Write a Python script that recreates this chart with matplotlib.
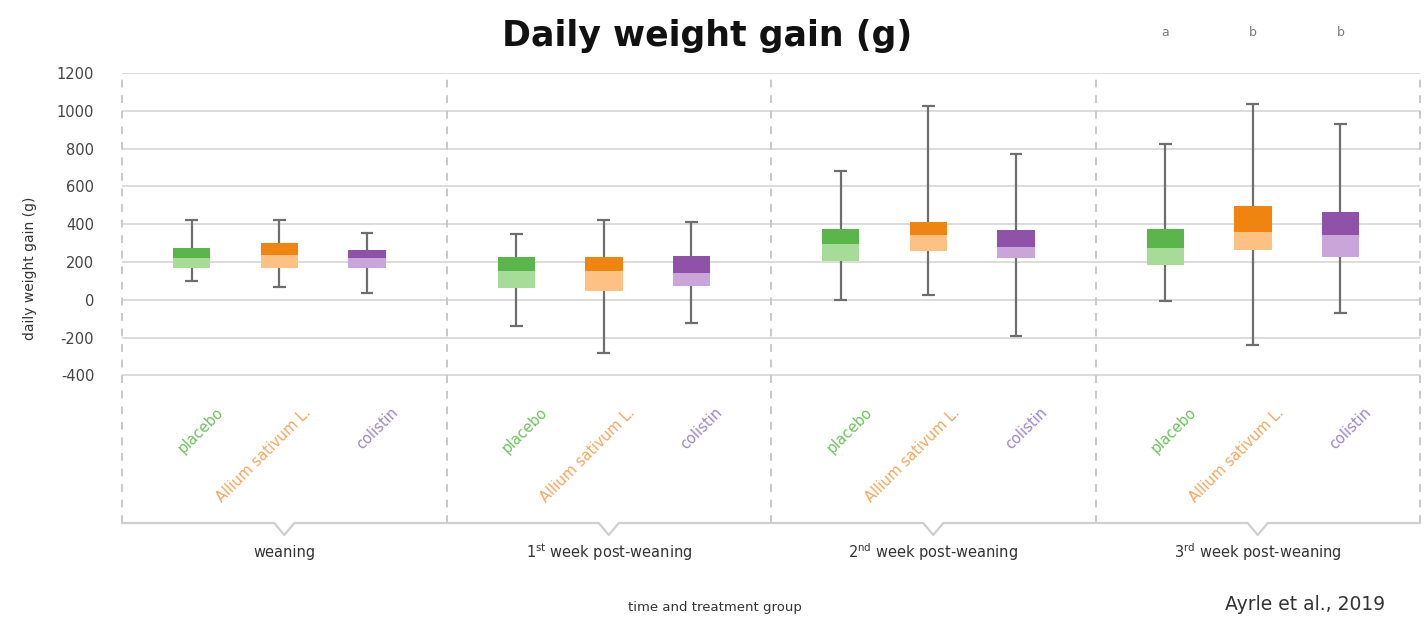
import matplotlib
matplotlib.use("Agg")
import matplotlib.pyplot as plt
import matplotlib.transforms as mtransforms
import numpy as np

plt.rcParams['font.family'] = ['DejaVu Sans']
plt.rcParams['axes.unicode_minus'] = False

# ---------------- data ----------------
groups = ["weaning",
          r"1$^{\mathrm{st}}$ week post-weaning",
          r"2$^{\mathrm{nd}}$ week post-weaning",
          r"3$^{\mathrm{rd}}$ week post-weaning"]
treatments = ["placebo", "Allium sativum L.", "colistin"]

placebo_low = [97, -141, 0, -5]
placebo_q1 = [170, 63, 203, 185]
placebo_med = [222, 150, 296, 275]
placebo_q3 = [275, 229, 375, 375]
placebo_high = [420, 349, 679, 825]

allium_low = [69, -281, 26, -238]
allium_q1 = [170, 44, 256, 261]
allium_med = [238, 150, 344, 361]
allium_q3 = [303, 228, 409, 497]
allium_high = [420, 420, 1023, 1037]

colistin_low = [37, -122, -194, -70]
colistin_q1 = [170, 74, 222, 226]
colistin_med = [222, 144, 282, 344]
colistin_q3 = [265, 233, 370, 462]
colistin_high = [354, 413, 772, 929]

last_letters = ["a", "b", "b"]
yticks = [-400, -200, 0, 200, 400, 600, 800, 1000, 1200]

# ---------------- styles ----------------
dark = ["#5ab64a", "#ef8510", "#8f52a8"]
light = ["#a7dc98", "#fcc183", "#c9a5d9"]
label_col = ["#6cc35c", "#f6a65c", "#9b86c8"]
offsets = [-0.285, -0.015, 0.255]
box_w = 0.115
cap_w = 0.02

stats = [
    (placebo_low, placebo_q1, placebo_med, placebo_q3, placebo_high),
    (allium_low, allium_q1, allium_med, allium_q3, allium_high),
    (colistin_low, colistin_q1, colistin_med, colistin_q3, colistin_high),
]

fig = plt.figure(figsize=(14.24, 6.2), dpi=100)
ax = fig.add_axes([122/1424, 1-523/620, 1298/1424, 450/620])
ylo = 1200 - 450/0.189
ax.set_xlim(-0.5, 3.5)
ax.set_ylim(ylo, 1200)
for s in ax.spines.values():
    s.set_visible(False)
ax.set_xticks([])
ax.set_yticks(yticks)
ax.tick_params(axis='y', length=0, pad=20, labelsize=10.5, labelcolor="#444444")

# horizontal gridlines
for yv in yticks:
    ax.axhline(yv, color="#dcdcdc", lw=1.4, zorder=0)

# vertical dashed separators
for xv in np.arange(-0.5, 4.0, 1.0):
    ax.plot([xv, xv], [ylo, 1200], color="#c8c8c8", lw=1.4,
            dashes=(4, 4), zorder=0, clip_on=False)

# bottom border with notches at group centres
bx, by = [-0.5], [ylo]
notch_h = 0.031
notch_d = 12/0.189
for g in range(len(groups)):
    bx += [g - notch_h, g, g + notch_h]
    by += [ylo, ylo - notch_d, ylo]
bx.append(3.5)
by.append(ylo)
ax.plot(bx, by, color="#cfcfcf", lw=1.6, clip_on=False, zorder=1)

x_base = np.arange(len(groups))
for t, (lo, q1, med, q3, hi) in enumerate(stats):
    xs = x_base + offsets[t]
    lo, q1, med, q3, hi = map(np.asarray, (lo, q1, med, q3, hi))
    ax.vlines(xs, lo, hi, color="#6e6e6e", lw=1.6, zorder=2)
    ax.hlines(lo, xs - cap_w, xs + cap_w, color="#6e6e6e", lw=1.6, zorder=2)
    ax.hlines(hi, xs - cap_w, xs + cap_w, color="#6e6e6e", lw=1.6, zorder=2)
    ax.bar(xs, med - q1, bottom=q1, width=box_w, color=light[t], zorder=3)
    ax.bar(xs, q3 - med, bottom=med, width=box_w, color=dark[t], zorder=3)
    # rotated treatment labels
    for g in range(len(groups)):
        ax.text(xs[g] + 0.105, 1200 - (405-73)/0.189, treatments[t],
                rotation=45, ha='right', va='top', fontsize=10.5,
                color=label_col[t], zorder=4)

# significance letters above last group
trans_xfig = mtransforms.blended_transform_factory(ax.transData, fig.transFigure)
for t in range(3):
    ax.text(3 + offsets[t], 1 - 33/620, last_letters[t], transform=trans_xfig,
            ha='center', va='center', fontsize=9, color="#7a7a7a")

# group labels
for g, name in enumerate(groups):
    ax.text(g, 1 - 552/620, name, transform=trans_xfig, ha='center',
            va='center', fontsize=10.5, color="#333333")

fig.text(715/1424, 1 - 607/620, "time and treatment group", ha='center',
         va='center', fontsize=9.5, color="#333333")
fig.text(1305/1424, 1 - 604/620, "Ayrle et al., 2019", ha='center',
         va='center', fontsize=13.5, color="#333333")
fig.text(30/1424, 1 - 268/620, "daily weight gain (g)", rotation=90,
         ha='center', va='center', fontsize=10, color="#333333")
fig.text(707/1424, 1 - 36/620, "Daily weight gain (g)", ha='center',
         va='center', fontsize=25, fontweight='bold', color="#111111")

fig.savefig("out.png", dpi=100)
